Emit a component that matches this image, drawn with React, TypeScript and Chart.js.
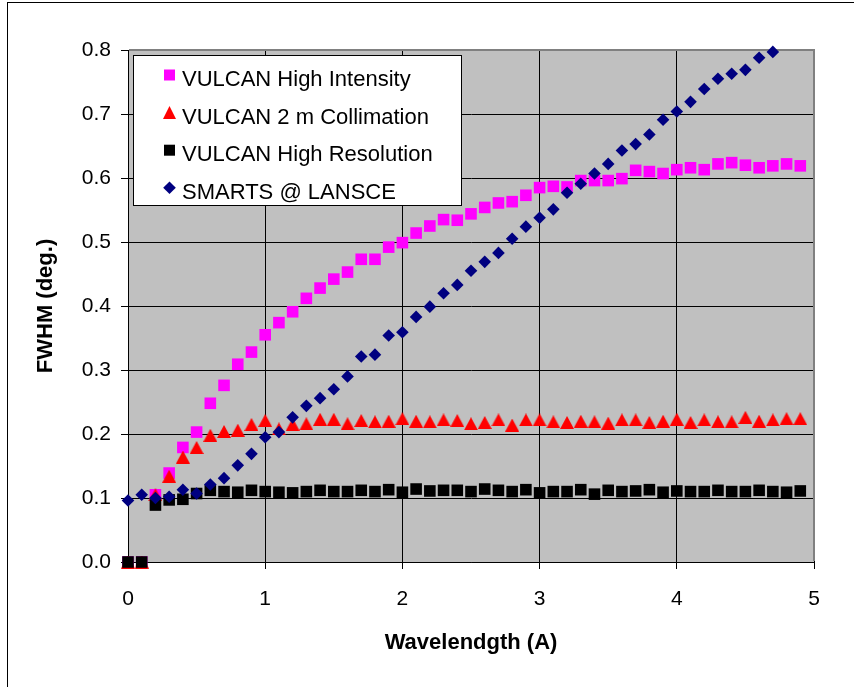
import React, { useEffect, useRef } from 'react';
import { Chart, registerables } from 'chart.js';

Chart.register(...registerables);

// Wavelength (A) at which each FWHM value was computed
const wavelength = [
  0, 0.1, 0.2, 0.3, 0.4, 0.5, 0.6, 0.7, 0.8, 0.9,
  1.0, 1.1, 1.2, 1.3, 1.4, 1.5, 1.6, 1.7, 1.8, 1.9,
  2.0, 2.1, 2.2, 2.3, 2.4, 2.5, 2.6, 2.7, 2.8, 2.9,
  3.0, 3.1, 3.2, 3.3, 3.4, 3.5, 3.6, 3.7, 3.8, 3.9,
  4.0, 4.1, 4.2, 4.3, 4.4, 4.5, 4.6, 4.7, 4.8, 4.9,
];

// FWHM (deg.) per instrument setting
const vulcanHighIntensity = [
  0, 0, 0.105, 0.139, 0.179, 0.203, 0.248, 0.276, 0.309, 0.328,
  0.355, 0.374, 0.391, 0.412, 0.428, 0.442, 0.453, 0.473, 0.473, 0.492,
  0.499, 0.514, 0.525, 0.535, 0.534, 0.544, 0.554, 0.561, 0.563, 0.573,
  0.585, 0.587, 0.586, 0.596, 0.596, 0.596, 0.599, 0.612, 0.610, 0.607,
  0.613, 0.616, 0.613, 0.622, 0.624, 0.620, 0.616, 0.619, 0.622, 0.619,
];

const vulcanCollimation = [
  0, 0, 0.105, 0.134, 0.164, 0.179, 0.198, 0.204, 0.206, 0.215,
  0.221, 0.208, 0.215, 0.216, 0.223, 0.223, 0.216, 0.221, 0.219, 0.220,
  0.224, 0.220, 0.219, 0.222, 0.221, 0.216, 0.218, 0.222, 0.214, 0.222,
  0.222, 0.219, 0.218, 0.220, 0.219, 0.217, 0.222, 0.222, 0.218, 0.220,
  0.223, 0.218, 0.222, 0.219, 0.219, 0.226, 0.220, 0.222, 0.224, 0.224,
];

const vulcanHighResolution = [
  0, 0, 0.089, 0.097, 0.098, 0.107, 0.112, 0.110, 0.109, 0.112,
  0.110, 0.109, 0.108, 0.110, 0.112, 0.110, 0.110, 0.112, 0.110, 0.113,
  0.109, 0.114, 0.111, 0.112, 0.112, 0.110, 0.114, 0.112, 0.110, 0.113,
  0.108, 0.110, 0.110, 0.113, 0.106, 0.112, 0.110, 0.111, 0.113, 0.109,
  0.111, 0.110, 0.110, 0.112, 0.110, 0.110, 0.112, 0.110, 0.109, 0.111,
];

// SMARTS data stops at 4.7 A
const smartsLansce = [
  0.096, 0.105, 0.100, 0.102, 0.113, 0.107, 0.121, 0.131, 0.151, 0.169,
  0.195, 0.203, 0.226, 0.244, 0.256, 0.270, 0.290, 0.321, 0.324, 0.354,
  0.359, 0.383, 0.399, 0.420, 0.433, 0.455, 0.469, 0.483, 0.505, 0.524,
  0.538, 0.551, 0.577, 0.591, 0.607, 0.622, 0.643, 0.653, 0.668, 0.691,
  0.704, 0.719, 0.739, 0.755, 0.763, 0.769, 0.788, 0.797,
];

const seriesNames = [
  'VULCAN High Intensity',
  'VULCAN 2 m Collimation',
  'VULCAN High Resolution',
  'SMARTS @ LANSCE',
];

const xTitle = 'Wavelendgth (A)';
const yTitle = 'FWHM (deg.)';

const FONT = '"Liberation Sans", Arial, Helvetica, sans-serif';

const toPoints = (ys: number[]) => ys.map((y, i) => ({ x: wavelength[i], y }));

// Triangle marker centred on its bounding box
function makeTriangle(color: string): HTMLCanvasElement {
  const c = document.createElement('canvas');
  c.width = 14;
  c.height = 13;
  const g = c.getContext('2d')!;
  g.fillStyle = color;
  g.beginPath();
  g.moveTo(7, 0);
  g.lineTo(14, 13);
  g.lineTo(0, 13);
  g.closePath();
  g.fill();
  return c;
}

function drawMarker(
  ctx: CanvasRenderingContext2D,
  style: string,
  x: number,
  y: number,
  color: string,
) {
  ctx.fillStyle = color;
  ctx.beginPath();
  if (style === 'rect') {
    ctx.rect(x - 5.5, y - 5.5, 11, 11);
  } else if (style === 'triangle') {
    ctx.moveTo(x, y - 6.5);
    ctx.lineTo(x + 6.5, y + 6.5);
    ctx.lineTo(x - 6.5, y + 6.5);
    ctx.closePath();
  } else {
    ctx.moveTo(x, y - 6.3);
    ctx.lineTo(x + 6.3, y);
    ctx.lineTo(x, y + 6.3);
    ctx.lineTo(x - 6.3, y);
    ctx.closePath();
  }
  ctx.fill();
}

const plotDecor = {
  id: 'plotDecor',
  beforeDraw(chart: any) {
    const { ctx, chartArea: a, width, height } = chart;
    ctx.save();
    ctx.fillStyle = '#ffffff';
    ctx.fillRect(0, 0, width, height);
    // outer frame
    ctx.strokeStyle = '#000000';
    ctx.lineWidth = 1;
    ctx.strokeRect(7.5, 2.5, width + 20, height + 20);
    // plot background
    ctx.fillStyle = '#c0c0c0';
    ctx.fillRect(a.left, a.top, a.right - a.left, a.bottom - a.top);
    ctx.restore();
  },
  beforeDatasetsDraw(chart: any) {
    const { ctx, chartArea: a } = chart;
    ctx.save();
    ctx.strokeStyle = '#808080';
    ctx.lineWidth = 2;
    ctx.beginPath();
    ctx.moveTo(a.left + 1, a.top);
    ctx.lineTo(a.right, a.top);
    ctx.lineTo(a.right, a.bottom - 1);
    ctx.stroke();
    ctx.restore();
  },
  afterDatasetsDraw(chart: any) {
    const { ctx, chartArea: a } = chart;
    const bx = a.left + 5;
    const by = a.top + 5;
    ctx.save();
    ctx.fillStyle = '#ffffff';
    ctx.fillRect(bx, by, 329, 151);
    ctx.strokeStyle = '#000000';
    ctx.lineWidth = 1;
    ctx.strokeRect(bx + 0.5, by + 0.5, 328, 150);
    ctx.font = `22px ${FONT}`;
    ctx.textBaseline = 'alphabetic';
    ctx.textAlign = 'left';
    const styles = ['rect', 'triangle', 'rect', 'rectRot'];
    const colors = ['#ff00ff', '#ff0000', '#000000', '#000080'];
    seriesNames.forEach((name, i) => {
      const rowBase = by + 31 + i * 37.6;
      drawMarker(ctx, styles[i], bx + 36.5, rowBase - 11, colors[i]);
      ctx.fillStyle = '#000000';
      ctx.fillText(name, bx + 49, rowBase);
    });
    ctx.restore();
  },
};

export default function App() {
  const canvasRef = useRef<HTMLCanvasElement | null>(null);

  useEffect(() => {
    document.body.style.margin = '0';
    const canvas = canvasRef.current;
    if (!canvas) return;

    const chart = new Chart(canvas, {
      type: 'scatter',
      data: {
        datasets: [
          {
            label: seriesNames[0],
            data: toPoints(vulcanHighIntensity),
            pointStyle: 'rect',
            pointRadius: 8.2,
            pointBackgroundColor: '#ff00ff',
            pointBorderColor: '#ff33ff',
            pointBorderWidth: 0,
            showLine: false,
            clip: false,
            order: 3,
          },
          {
            label: seriesNames[1],
            data: toPoints(vulcanCollimation),
            pointStyle: makeTriangle('#ff0000'),
            pointRadius: 7,
            pointBackgroundColor: '#ff0000',
            pointBorderColor: '#ff0000',
            pointBorderWidth: 0,
            showLine: false,
            clip: false,
            order: 2,
          },
          {
            label: seriesNames[2],
            data: toPoints(vulcanHighResolution),
            pointStyle: 'rect',
            pointRadius: 8.2,
            pointBackgroundColor: '#000000',
            pointBorderColor: '#000000',
            pointBorderWidth: 0,
            showLine: false,
            clip: false,
            order: 1,
          },
          {
            label: seriesNames[3],
            data: toPoints(smartsLansce),
            pointStyle: 'rectRot',
            pointRadius: 6.3,
            pointBackgroundColor: '#000080',
            pointBorderColor: '#000080',
            pointBorderWidth: 0,
            showLine: false,
            clip: false,
            order: 0,
          },
        ],
      },
      options: {
        animation: false,
        responsive: true,
        maintainAspectRatio: false,
        events: [],
        layout: { padding: { left: 33, top: 50, right: 40, bottom: 31 } },
        plugins: {
          legend: { display: false },
          tooltip: { enabled: false },
        },
        scales: {
          x: {
            type: 'linear',
            min: 0,
            max: 5,
            afterFit(scale: any) {
              scale.height = 94;
            },
            ticks: {
              stepSize: 1,
              padding: 18,
              color: '#000000',
              font: { family: FONT, size: 21 },
              callback: (v: any) => String(v),
            },
            grid: {
              color: '#000000',
              lineWidth: 1,
              drawTicks: true,
              tickLength: 7,
            },
            border: { display: true, color: '#000000', width: 1 },
            title: {
              display: true,
              text: xTitle,
              color: '#000000',
              font: { family: FONT, size: 22, weight: 'bold' },
              padding: { top: 0, bottom: 0 },
            },
          },
          y: {
            type: 'linear',
            min: 0,
            max: 0.8,
            afterFit(scale: any) {
              scale.width = 95;
            },
            ticks: {
              stepSize: 0.1,
              padding: 10,
              color: '#000000',
              font: { family: FONT, size: 21 },
              callback: (v: any) => Number(v).toFixed(1),
            },
            grid: {
              color: '#000000',
              lineWidth: 1,
              drawTicks: true,
              tickLength: 7,
            },
            border: { display: true, color: '#000000', width: 1 },
            title: {
              display: true,
              text: yTitle,
              color: '#000000',
              font: { family: FONT, size: 22, weight: 'bold' },
              padding: { top: 0, bottom: 0 },
            },
          },
        },
      },
      plugins: [plotDecor],
    });

    return () => chart.destroy();
  }, []);

  return (
    <div style={{ position: 'absolute', left: 0, top: 0, width: 854, height: 687, background: '#ffffff' }}>
      <canvas ref={canvasRef} />
    </div>
  );
}
